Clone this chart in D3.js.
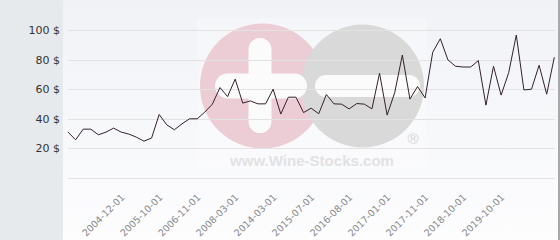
<!DOCTYPE html>
<html>
<head>
<meta charset="utf-8">
<script src="https://cdn.jsdelivr.net/npm/d3@7"></script>
<style>
  body { margin: 0; background: #fff; }
  svg { display: block; font-family: "DejaVu Sans", sans-serif; }
</style>
</head>
<body>
<div id="chart"></div>
<script>
// price per bottle, one value per quote (oldest first)
const prices = [
  31.0, 25.8, 33.0, 33.0, 29.2, 31.0, 33.7, 31.0, 29.7, 27.6,
  24.9, 27.0, 42.9, 35.9, 32.6, 36.6, 40.0, 40.0, 44.5, 49.9,
  61.1, 55.0, 66.8, 50.6, 52.1, 50.1, 50.1, 60.0, 43.2, 54.6,
  54.6, 44.2, 47.2, 43.4, 56.4, 50.1, 49.9, 46.7, 50.3, 49.9,
  46.7, 70.8, 42.5, 57.7, 83.1, 53.3, 61.8, 54.1, 85.0, 94.1,
  79.8, 75.5, 75.0, 75.0, 79.3, 49.2, 75.5, 56.0, 71.2, 96.6,
  59.5, 60.0, 76.2, 56.6, 81.6
];

// labelled quotes on the x axis
const tickLabels = [
  '2004-12-01', '2005-10-01', '2006-11-01', '2008-03-01', '2014-03-01', '2015-07-01',
  '2016-08-01', '2017-01-01', '2017-11-01', '2018-10-01', '2019-10-01'
];
const tickIndex = [7, 12, 17, 22, 27, 32, 37, 42, 47, 52, 57];

const yTicks = [0, 20, 40, 60, 80, 100];

const width = 560;
const height = 240;
const plotLeft = 68, plotRight = 555, plotTop = 30, plotBottom = 178;

const svg = d3.select('#chart').append('svg')
    .attr('width', width)
    .attr('height', height);

// background
const defs = svg.append('defs');
const grad = defs.append('linearGradient')
    .attr('id', 'plotbg')
    .attr('x1', 0).attr('y1', 0).attr('x2', 0).attr('y2', 1);
grad.append('stop').attr('offset', '0%').attr('stop-color', '#f0f2f6');
grad.append('stop').attr('offset', '100%').attr('stop-color', '#fdfdfe');

svg.append('rect')
    .attr('width', width).attr('height', height)
    .attr('fill', '#fff');
svg.append('rect')
    .attr('x', 0).attr('y', 0)
    .attr('width', 63).attr('height', height)
    .attr('fill', '#e6eaed');
svg.append('rect')
    .attr('x', 63).attr('y', 0)
    .attr('width', 495).attr('height', height)
    .attr('fill', 'url(#plotbg)');
svg.append('rect')
    .attr('x', 558).attr('y', 0)
    .attr('width', 2).attr('height', height)
    .attr('fill', '#a8a8a8');

// scales
const x = d3.scalePoint()
    .domain(d3.range(prices.length))
    .range([plotLeft, plotRight - 0.7]);

const y = d3.scaleLinear()
    .domain([0, 100])
    .range([plotBottom, plotTop]);

// watermark
const wm = svg.append('g').attr('class', 'watermark');
wm.append('rect')
    .attr('x', 197).attr('y', 18)
    .attr('width', 230).attr('height', 155)
    .attr('fill', '#fff').attr('opacity', 0.25);
wm.append('circle')
    .attr('cx', 262.5).attr('cy', 86)
    .attr('r', 62.5)
    .attr('fill', '#eccdd6');
wm.append('circle')
    .attr('cx', 362.5).attr('cy', 86)
    .attr('r', 61.5)
    .attr('fill', '#d9d9da');
// plus
wm.append('rect')
    .attr('x', 248.5).attr('y', 38)
    .attr('width', 23).attr('height', 95)
    .attr('rx', 11.5)
    .attr('fill', '#fbfbfc');
wm.append('rect')
    .attr('x', 215).attr('y', 73.5)
    .attr('width', 92).attr('height', 25)
    .attr('rx', 12.5)
    .attr('fill', '#fbfbfc');
// minus
wm.append('rect')
    .attr('x', 315).attr('y', 75)
    .attr('width', 105).attr('height', 22)
    .attr('rx', 11)
    .attr('fill', '#fbfbfc');
wm.append('text')
    .attr('x', 413).attr('y', 144)
    .attr('text-anchor', 'middle')
    .attr('font-family', 'Liberation Sans, Arial, sans-serif')
    .attr('font-size', 15)
    .attr('fill', '#d4d4d4')
    .text('®');
wm.append('text')
    .attr('x', 230).attr('y', 165.5)
    .attr('font-family', 'Liberation Sans, Arial, sans-serif')
    .attr('font-weight', 'bold')
    .attr('font-size', 14)
    .attr('textLength', 164)
    .attr('lengthAdjust', 'spacingAndGlyphs')
    .attr('fill', '#e2e2e4')
    .text('www.Wine-Stocks.com');

// grid lines
svg.append('g')
    .selectAll('line')
    .data(yTicks)
    .enter().append('line')
    .attr('x1', plotLeft).attr('x2', plotRight)
    .attr('y1', d => Math.round(y(d)) + 0.5)
    .attr('y2', d => Math.round(y(d)) + 0.5)
    .attr('stroke', '#e2e2e2')
    .attr('stroke-width', 1);

// y labels
svg.append('g')
    .selectAll('text')
    .data(yTicks.filter(d => d > 0))
    .enter().append('text')
    .attr('x', 60)
    .attr('y', d => y(d))
    .attr('dy', '0.36em')
    .attr('text-anchor', 'end')
    .attr('font-size', 11)
    .attr('fill', '#333')
    .text(d => d + ' $');

// x labels
svg.append('g')
    .selectAll('text')
    .data(tickIndex)
    .enter().append('text')
    .attr('transform', d => `translate(${x(d) + 4},${plotBottom + 20}) rotate(-45)`)
    .attr('text-anchor', 'end')
    .attr('font-size', 9.5)
    .attr('fill', '#888')
    .text((d, i) => tickLabels[i]);

// price line
const line = d3.line()
    .x((d, i) => x(i))
    .y(d => y(d));

svg.append('path')
    .datum(prices)
    .attr('d', line)
    .attr('fill', 'none')
    .attr('stroke', '#33202c')
    .attr('stroke-width', 1)
    .attr('stroke-linejoin', 'round');
</script>
</body>
</html>
